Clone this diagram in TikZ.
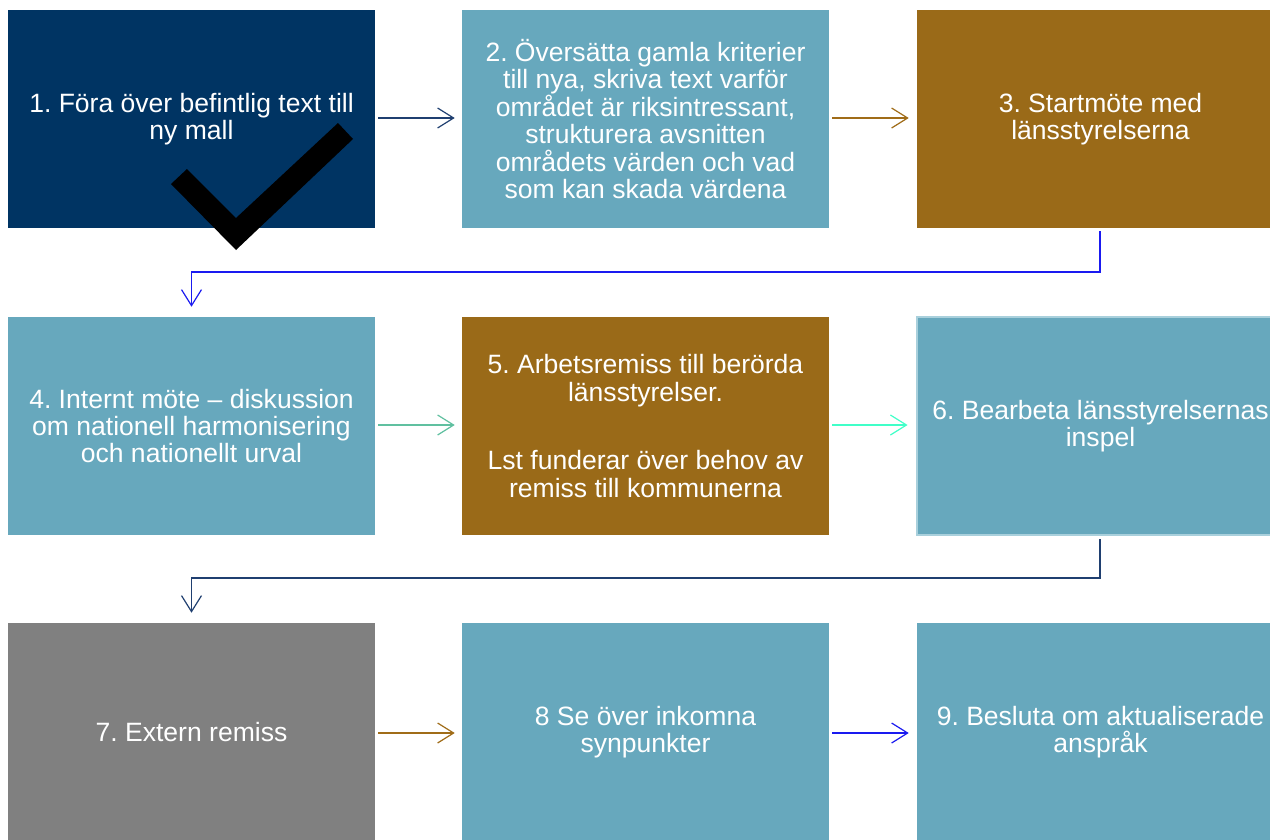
\documentclass[tikz,border=0pt]{standalone}
\usepackage{fontspec}
\setmainfont{Liberation Sans}
\usetikzlibrary{arrows.meta}
\frenchspacing
\definecolor{navy}{HTML}{003463}
\definecolor{teal}{HTML}{67A8BD}
\definecolor{brownbox}{HTML}{9A6A18}
\definecolor{greybox}{HTML}{808080}
\definecolor{lightedge}{HTML}{A9D0DC}
\definecolor{arrnavy}{HTML}{1F3F70}
\definecolor{arrbrown}{HTML}{A06C18}
\definecolor{arrblue}{HTML}{1A1AF0}
\definecolor{arrgreen}{HTML}{60C0A0}
\definecolor{arraqua}{HTML}{40FFC8}
\tikzset{
  stepbox/.style={rectangle, inner sep=0pt, minimum width=275.25pt, minimum height=163.5pt,
    text=white, align=center, font=\fontsize{19.9pt}{20.6pt}\selectfont\frenchspacing},
  conn/.style={line width=0.9pt, -{Straight Barb[length=12pt,width=15pt,line width=0.9pt]}},
}
\begin{document}
\begin{tikzpicture}[x=0.75pt,y=-0.75pt]
\useasboundingbox (0,0) rectangle (1270,839);
\clip (0,0) rectangle (1270,839);
\fill[white] (0,0) rectangle (1270,839);
% row 1
\node[stepbox, fill=navy] (b1) at (191.5,119) {1. Föra över befintlig text till\\ny mall};
\node[stepbox, fill=teal] (b2) at (645.5,119) {2. Översätta gamla kriterier\\till nya, skriva text varför\\området är riksintressant,\\strukturera avsnitten\\områdets värden och vad\\som kan skada värdena};
\node[stepbox, fill=brownbox] (b3) at (1100.5,119) {3. Startmöte med\\länsstyrelserna};
% check mark
\fill[black] (171,184) -- (187,169) -- (236,218) -- (338,123) -- (353,139) -- (236,250) -- cycle;
% row 2
\node[stepbox, fill=teal] (b4) at (191.5,426) {4. Internt möte – diskussion\\om nationell harmonisering\\och nationellt urval};
\node[stepbox, fill=brownbox] (b5) at (645.5,426) {5. Arbetsremiss till berörda\\länsstyrelser.\\[31pt]Lst funderar över behov av\\remiss till kommunerna};
\node[stepbox, fill=teal, draw=lightedge, line width=2.2pt] (b6) at (1100.5,426) {6. Bearbeta länsstyrelsernas\\inspel};
% row 3
\node[stepbox, fill=greybox] (b7) at (191.5,732) {7. Extern remiss};
\node[stepbox, fill=teal] (b8) at (645.5,732) {8 Se över inkomna\\synpunkter};
\node[stepbox, fill=teal] (b9) at (1100.5,732) {9. Besluta om aktualiserade\\anspråk};
% connectors
\coordinate (a1s) at (378,118);
\draw[conn, arrnavy] ([xshift=2.25pt]b1.east |- a1s) -- ([xshift=-5.25pt]b2.west |- a1s);
\draw[conn, arrbrown] ([xshift=2.25pt]b2.east |- a1s) -- ([xshift=-6pt]b3.west |- a1s);
\coordinate (k1) at (1100,272);
\draw[conn, arrblue] ([yshift=-2.25pt]b3.south -| k1) -- (k1) -- (k1 -| b4.north) -- ([yshift=7.5pt]b4.north);
\coordinate (a2s) at (378,425);
\draw[conn, arrgreen] ([xshift=2.25pt]b4.east |- a2s) -- ([xshift=-5.25pt]b5.west |- a2s);
\draw[conn, arraqua] ([xshift=2.25pt]b5.east |- a2s) -- ([xshift=-6pt]b6.west |- a2s);
\coordinate (k2) at (1100,578);
\draw[conn, arrnavy] ([yshift=-2.25pt]b6.south -| k2) -- (k2) -- (k2 -| b7.north) -- ([yshift=7.5pt]b7.north);
\coordinate (a3s) at (378,733);
\draw[conn, arrbrown] ([xshift=2.25pt]b7.east |- a3s) -- ([xshift=-5.25pt]b8.west |- a3s);
\draw[conn, arrblue] ([xshift=2.25pt]b8.east |- a3s) -- ([xshift=-6pt]b9.west |- a3s);
\end{tikzpicture}
\end{document}
